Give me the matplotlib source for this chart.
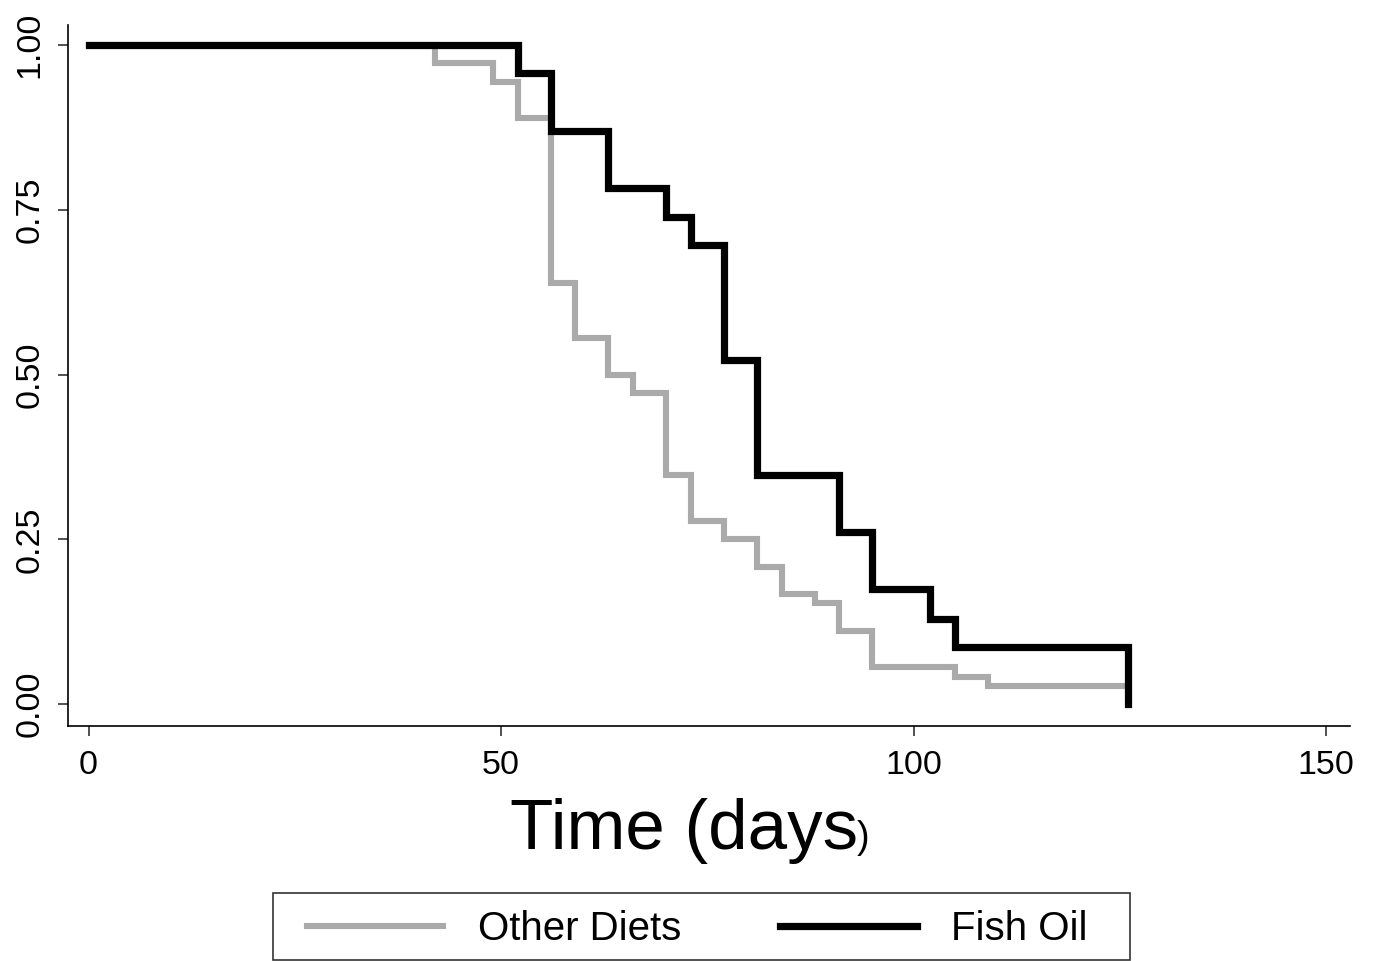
import numpy as np
import matplotlib
matplotlib.use('Agg')
import matplotlib.pyplot as plt
from matplotlib.patches import Rectangle

plt.rcParams['font.family'] = ['Liberation Sans', 'DejaVu Sans']

# Kaplan-Meier steps (days, survival)
other_t = [0, 42, 49, 52, 56, 59, 63, 66, 70, 73, 77, 81, 84, 88, 91, 95, 105, 109, 126]
other_s = [1.0, 0.972, 0.944, 0.889, 0.639, 0.556, 0.500, 0.472, 0.347, 0.278,
           0.250, 0.208, 0.167, 0.153, 0.111, 0.056, 0.042, 0.028, 0.028]

fish_t = [0, 52, 56, 63, 70, 73, 77, 81, 91, 95, 102, 105, 126, 126]
fish_s = [1.0, 0.957, 0.870, 0.783, 0.739, 0.696, 0.522, 0.348, 0.261, 0.174,
          0.130, 0.087, 0.087, 0.0]

labels = ['Other Diets', 'Fish Oil']
xticks = [0, 50, 100, 150]
yticks = [0.0, 0.25, 0.5, 0.75, 1.0]

fig = plt.figure(figsize=(13.74, 9.61), dpi=100)
ax = fig.add_axes([68 / 1374, 1 - 726 / 961, (1350 - 68) / 1374, (726 - 25) / 961])

l1, = ax.step(other_t, other_s, where='post', color='#aaaaaa', lw=4.4,
              solid_joinstyle='miter', zorder=2)
l2, = ax.step(fish_t, fish_s, where='post', color='black', lw=5.2,
              solid_joinstyle='miter', zorder=3)

ax.set_xlim(-2.5, 152.9)
ax.set_ylim(-0.033, 1.03)
ax.set_xticks(xticks)
ax.set_yticks(yticks)
ax.set_yticklabels(['%.2f' % v for v in yticks], rotation=90, va='center')
ax.tick_params(axis='both', labelsize=24.5, length=7, width=1.2, color='#333333')
ax.tick_params(axis='x', pad=10)
ax.tick_params(axis='y', pad=9)
for side in ['top', 'right']:
    ax.spines[side].set_visible(False)
for side in ['left', 'bottom']:
    ax.spines[side].set_linewidth(1.2)

# x label with the odd small closing bracket
fig.text(510 / 1374, 1 - 849 / 961, 'Time (days', fontsize=51, ha='left', va='baseline')
fig.text(857 / 1374, 1 - 848 / 961, ')', fontsize=27, ha='left', va='baseline')

# legend entries, frame drawn separately so it can be wider than the content
leg = fig.legend([l1, l2], labels, loc='center', bbox_to_anchor=(697 / 1374, 32 / 961),
                 ncol=2, fontsize=29, frameon=False,
                 handlelength=3.4, handletextpad=0.85, columnspacing=2.45,
                 borderpad=0.0, borderaxespad=0)
fig.patches.append(Rectangle((273 / 1374, 1.2 / 961), 857 / 1374, 66.8 / 961,
                             transform=fig.transFigure, fill=False,
                             edgecolor='#333333', lw=1.2))

plt.savefig('out.png', dpi=100)
plt.close()
